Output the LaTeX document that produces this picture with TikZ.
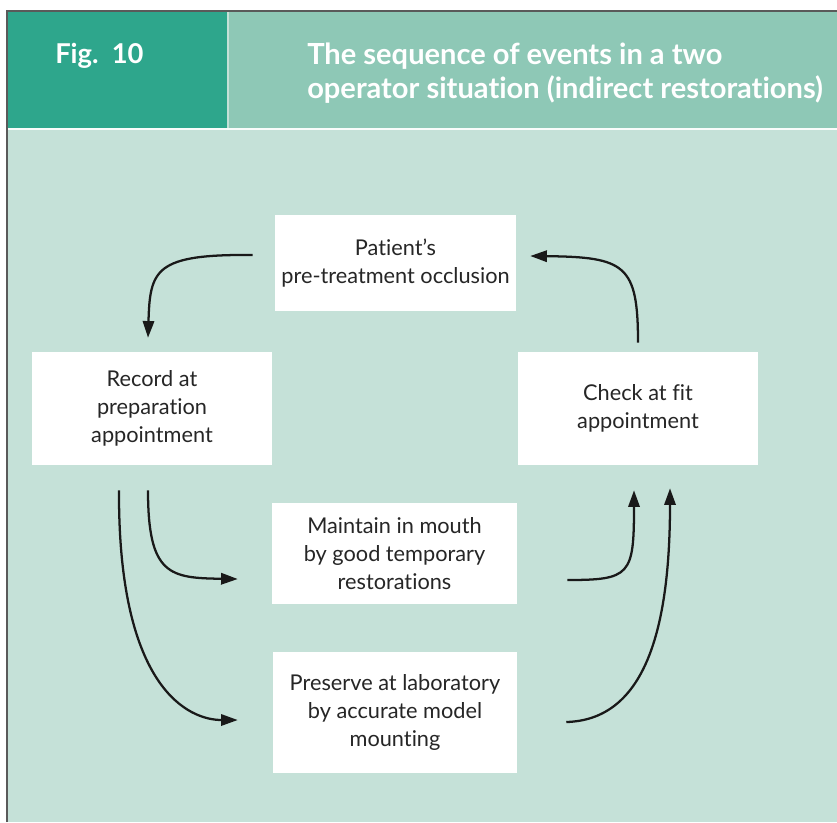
\documentclass[tikz,border=0pt]{standalone}
\usepackage{fontspec}
\setmainfont{Lato}[Ligatures={NoCommon,NoRare}]
\usepackage{xcolor}
\usetikzlibrary{arrows.meta, positioning, calc}

\definecolor{headdark}{HTML}{2EA68C}
\definecolor{headlight}{HTML}{8EC8B6}
\definecolor{bodybg}{HTML}{C5E1D8}
\definecolor{framegray}{HTML}{5A5A5A}

\begin{document}
\begin{tikzpicture}[
    x=0.75pt, y=-0.75pt,
    eventbox/.style={rectangle, fill=white, align=center, inner sep=2pt, font=\fontsize{16.3}{21}\selectfont, text=black!85},
    flow/.style={-{Triangle[length=12.5pt, width=8.5pt]}, line width=1.7pt, black!90}
]
\useasboundingbox (0,0) rectangle (837,822);

% background and header bands
\fill[white] (0,0) rectangle (837,822);
\fill[bodybg] (7,11) rectangle (837,822);
\fill[headdark] (7,11) rectangle (227,128);
\fill[headlight] (229,11) rectangle (837,128);
\draw[white!90!bodybg, line width=1.5pt] (7,129) -- (837,129);
\draw[framegray, line width=1.2pt] (7,822) -- (7,11) -- (837,11);

\node[anchor=base west, inner sep=0, text=white, font=\fontsize{20.5}{25.5}\selectfont\bfseries] (fignum) at (55,63) {Fig.\ \ 10};
\node[anchor=west, inner sep=0, text=white, align=left, font=\fontsize{21.8}{25.5}\selectfont\bfseries] (title) at (307,73)
    {The sequence of events in a two\\operator situation (indirect restorations)};

% event boxes
\node[eventbox, minimum width=180.75pt, minimum height=72pt] (patient) at (395.5,263) {Patient's\\pre-treatment occlusion};
\node[eventbox, minimum width=180pt, minimum height=84.75pt] (record) at (152,408.5) {Record at\\preparation\\appointment};
\node[eventbox, minimum width=180pt, minimum height=84.75pt] (check) at (638,408.5) {Check at fit\\appointment};
\node[eventbox, minimum width=183.75pt, minimum height=75.75pt] (maintain) at (394.5,553.5) {Maintain in mouth\\by good temporary\\restorations};
\node[eventbox, minimum width=183pt, minimum height=90.75pt] (preserve) at (395,712.5) {Preserve at laboratory\\by accurate model\\mounting};

% connectors
\draw[flow] ($(patient.west)+(-22,-8)$) .. controls +(-98,-1) and +(2,-68) .. ($(record.north)+(-4,-14)$);
\draw[flow] ($(check.north)+(0,-9)$) .. controls +(0,-78) and +(95,1) .. ($(patient.east)+(14,-7)$);
\draw[flow] ($(record.south)+(-4,25)$) .. controls +(0,85) and +(-68,-1) .. ($(maintain.west)+(-34,25.5)$);
\draw[flow] ($(record.south)+(-33,25)$) .. controls +(-1,200) and +(-48,0) .. ($(preserve.west)+(-35,7.5)$);
\draw[flow] ($(maintain.east)+(50,26.5)$) .. controls +(63,0) and +(0,85) .. ($(check.south)+(-4,25)$);
\draw[flow] ($(preserve.east)+(49,9.5)$) .. controls +(74,-2) and +(0,152) .. ($(check.south)+(32,23)$);

\end{tikzpicture}
\end{document}
